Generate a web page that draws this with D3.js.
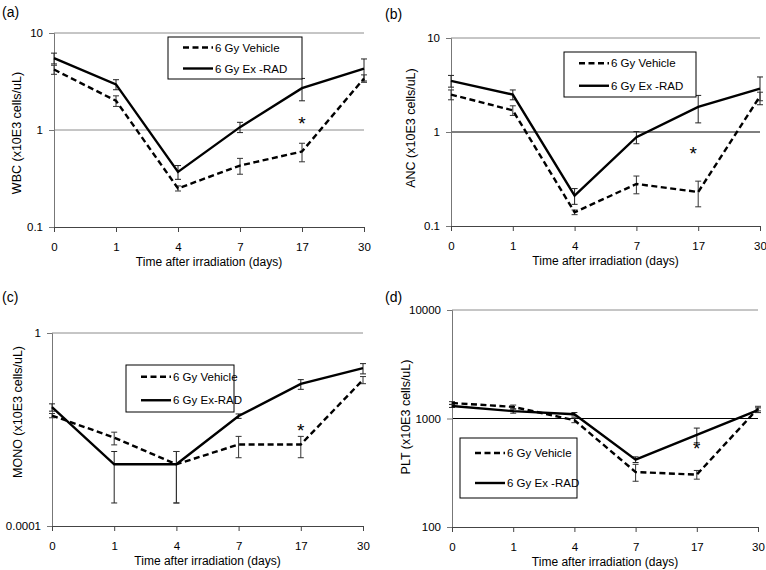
<!DOCTYPE html>
<html>
<head>
<meta charset="utf-8">
<script src="https://cdn.jsdelivr.net/npm/d3@7"></script>
<style>
  body { margin: 0; background: #fff; }
  text { font-family: "Liberation Sans", Arial, sans-serif; fill: #000; }
</style>
</head>
<body>
<div id="chart"></div>
<script>
// days after irradiation (categorical axis)
var days = ["0", "1", "4", "7", "17", "30"];
var seriesNames = ["6 Gy Vehicle", "6 Gy Ex-RAD"];

// WBC
var wbcVehicle = [4.2, 2.0, 0.25, 0.43, 0.60, 3.4];
var wbcVehicleErr = [0.45, 0.25, 0.015, 0.08, 0.13, 0.3];
var wbcExrad = [5.5, 2.95, 0.37, 1.07, 2.7, 4.3];
var wbcExradErr = [0.7, 0.35, 0.06, 0.13, 0.7, 1.1];

// ANC
var ancVehicle = [2.5, 1.7, 0.14, 0.28, 0.23, 2.4];
var ancVehicleErr = [0.3, 0.2, 0.008, 0.06, 0.07, 0.25];
var ancExrad = [3.5, 2.5, 0.21, 0.88, 1.85, 2.9];
var ancExradErr = [0.5, 0.3, 0.04, 0.13, 0.6, 0.95];

// MONO
var monoVehicle = [0.0195, 0.0068, 0.0019, 0.0049, 0.0049, 0.107];
var monoVehicleErr = [0.002, 0.002, 0.0016, 0.0023, 0.0023, 0.018];
var monoExrad = [0.029, 0.0019, 0.0019, 0.019, 0.088, 0.187];
var monoExradErr = [0.005, 0.0016, 0.0016, 0.002, 0.02, 0.045];

// PLT
var pltVehicle = [1390, 1280, 965, 321, 304, 1236];
var pltVehicleErr = [40, 50, 50, 57, 28, 60];
var pltExrad = [1305, 1170, 1095, 418, 706, 1193];
var pltExradErr = [40, 50, 40, 25, 110, 60];

var svg = d3.select("#chart").append("svg")
    .attr("width", 766)
    .attr("height", 570);

var panels = [
  { label: "(a)", lx: 2, ly: 17, left: 54, right: 364, top: 33, bottom: 227,
    domain: [0.1, 10], ticks: [0.1, 1, 10], grid: [1, 10], gridColor: ["#8c8c8c", "#8c8c8c"],
    title: "WBC (x10E3 cells/uL)", titleY: 133, titleX: 17,
    vehicle: wbcVehicle, vehicleErr: wbcVehicleErr, exrad: wbcExrad, exradErr: wbcExradErr,
    star: [4, 1.25, 0], legend: [168, 37, 302, 79], exLabel: "6 Gy Ex -RAD" },
  { label: "(b)", lx: 385, ly: 19, left: 451, right: 760, top: 38, bottom: 226,
    domain: [0.1, 10], ticks: [0.1, 1, 10], grid: [1, 10], gridColor: ["#000", "#8c8c8c"],
    title: "ANC (x10E3 cells/uL)", titleY: 128, titleX: 411,
    vehicle: ancVehicle, vehicleErr: ancVehicleErr, exrad: ancExrad, exradErr: ancExradErr,
    star: [4, 0.63, -5], legend: [564, 52, 696, 97], exLabel: "6 Gy Ex -RAD" },
  { label: "(c)", lx: 2, ly: 302, left: 52, right: 363, top: 333, bottom: 526,
    domain: [0.0001, 1], ticks: [0.0001, 1], grid: [1], gridColor: ["#8c8c8c"],
    title: "MONO (x10E3 cells/uL)", titleY: 412, titleX: 18,
    vehicle: monoVehicle, vehicleErr: monoVehicleErr, exrad: monoExrad, exradErr: monoExradErr,
    star: [4, 0.0105, 0], legend: [126, 365, 234, 412], exLabel: "6 Gy Ex-RAD" },
  { label: "(d)", lx: 385, ly: 302, left: 452, right: 758, top: 310, bottom: 527,
    domain: [100, 10000], ticks: [100, 1000, 10000], grid: [1000, 10000], gridColor: ["#000", "#8c8c8c"],
    title: "PLT (x10E3 cells/uL)", titleY: 417, titleX: 406,
    vehicle: pltVehicle, vehicleErr: pltVehicleErr, exrad: pltExrad, exradErr: pltExradErr,
    star: [4, 560, 0], legend: [460, 438, 577, 498], exLabel: "6 Gy Ex -RAD" }
];

panels.forEach(function(p) {
  var x = d3.scalePoint().domain(days).range([p.left, p.right]);
  var y = d3.scaleLog().domain(p.domain).range([p.bottom, p.top]);
  var g = svg.append("g");

  g.append("text")
    .attr("x", p.lx).attr("y", p.ly)
    .style("font-size", "14px")
    .text(p.label);

  // gridlines
  p.grid.forEach(function(v, i) {
    g.append("line")
      .attr("x1", p.left).attr("x2", p.right)
      .attr("y1", y(v)).attr("y2", y(v))
      .attr("stroke", p.gridColor[i]).attr("stroke-width", 1);
  });

  // y axis
  var yAxis = g.append("g")
    .attr("transform", "translate(" + p.left + ",0)")
    .call(d3.axisLeft(y).tickValues(p.ticks).tickSize(5).tickPadding(6)
      .tickFormat(function(d) { return String(+d.toPrecision(4)); }));
  yAxis.selectAll("path, line").attr("stroke", "#777");
  yAxis.selectAll("text").style("font-size", "11.5px").attr("font-family", null);

  // x axis
  var xAxis = g.append("g")
    .attr("transform", "translate(0," + p.bottom + ")")
    .call(d3.axisBottom(x).tickSize(5).tickPadding(11));
  xAxis.selectAll("path, line").attr("stroke", "#444");
  xAxis.selectAll("text").style("font-size", "11.5px").attr("font-family", null);

  g.append("text")
    .attr("x", (p.left + p.right) / 2).attr("y", p.bottom + 39)
    .attr("text-anchor", "middle")
    .style("font-size", "12px")
    .text("Time after irradiation (days)");

  g.append("text")
    .attr("transform", "translate(" + p.titleX + "," + p.titleY + ") rotate(-90)")
    .attr("text-anchor", "middle")
    .attr("dominant-baseline", "central")
    .style("font-size", "12.5px")
    .text(p.title);

  var line = d3.line()
    .x(function(d, i) { return x(days[i]); })
    .y(function(d) { return y(d); });

  var series = [
    { vals: p.exrad, err: p.exradErr, dash: null, errColor: "#222" },
    { vals: p.vehicle, err: p.vehicleErr, dash: "6,3.5", errColor: "#333" }
  ];

  series.forEach(function(s) {
    // error bars
    var eb = g.append("g");
    s.vals.forEach(function(v, i) {
      var hi = y(v + s.err[i]), lo = y(Math.max(v - s.err[i], p.domain[0]));
      var cx = x(days[i]);
      eb.append("line").attr("x1", cx).attr("x2", cx).attr("y1", hi).attr("y2", lo);
      eb.append("line").attr("x1", cx - 3).attr("x2", cx + 3).attr("y1", hi).attr("y2", hi);
      eb.append("line").attr("x1", cx - 3).attr("x2", cx + 3).attr("y1", lo).attr("y2", lo);
    });
    eb.selectAll("line").attr("stroke", s.errColor).attr("stroke-width", 1);

    g.append("path")
      .datum(s.vals)
      .attr("fill", "none")
      .attr("stroke", "#000")
      .attr("stroke-width", 2.4)
      .attr("stroke-dasharray", s.dash)
      .attr("d", line);
  });

  // significance marker
  g.append("text")
    .attr("x", x(days[p.star[0]]) + p.star[2]).attr("y", y(p.star[1]) + 9)
    .attr("text-anchor", "middle")
    .style("font-size", "19px")
    .text("*");

  // legend
  var L = p.legend;
  g.append("rect")
    .attr("x", L[0]).attr("y", L[1])
    .attr("width", L[2] - L[0]).attr("height", L[3] - L[1])
    .attr("fill", "#fff").attr("stroke", "#000").attr("stroke-width", 1);
  var rowH = (L[3] - L[1]) / 2;
  [["6,3.5", seriesNames[0]], [null, p.exLabel]].forEach(function(e, i) {
    var cy = L[1] + rowH * (i + 0.5);
    g.append("line")
      .attr("x1", L[0] + 15).attr("x2", L[0] + 45)
      .attr("y1", cy).attr("y2", cy)
      .attr("stroke", "#000").attr("stroke-width", 2.4)
      .attr("stroke-dasharray", e[0]);
    g.append("text")
      .attr("x", L[0] + 47).attr("y", cy)
      .attr("dominant-baseline", "central")
      .style("font-size", "11.5px")
      .text(e[1]);
  });
});
</script>
</body>
</html>
